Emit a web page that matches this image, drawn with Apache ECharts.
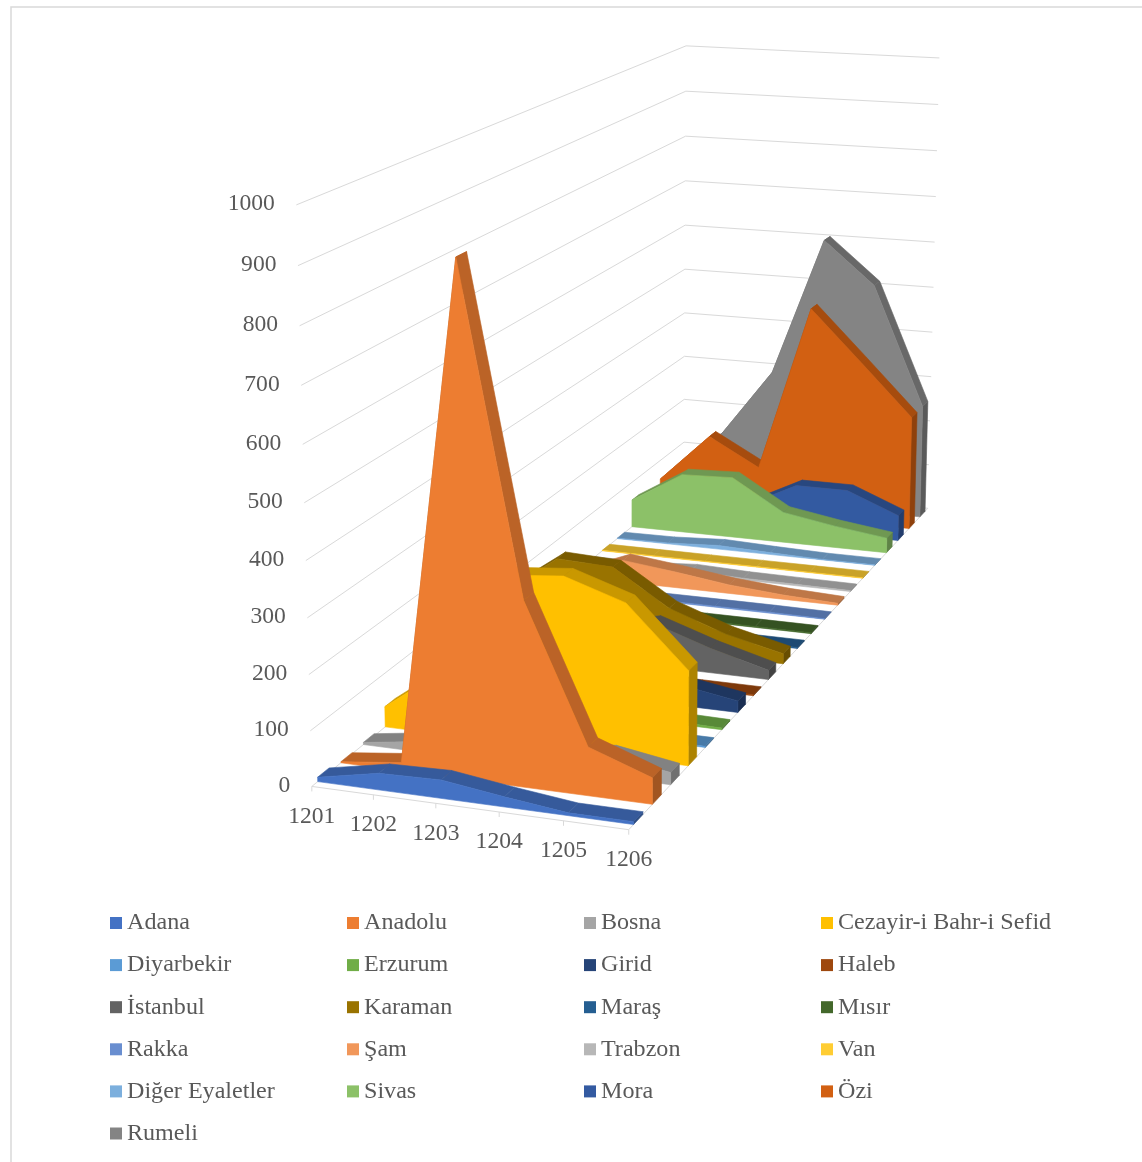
<!DOCTYPE html>
<html>
<head>
<meta charset="utf-8">
<style>html,body{margin:0;padding:0;background:#fff}#c{width:1142px;height:1162px}</style>
<script src="https://cdn.jsdelivr.net/npm/echarts@6/dist/echarts.min.js"></script>
</head>
<body>
<div id="c"></div>
<script>
const categories = ['1201','1202','1203','1204','1205','1206'];
const valueTicks = [0,100,200,300,400,500,600,700,800,900,1000];
const names = ['Adana','Anadolu','Bosna','Cezayir-i Bahr-i Sefid','Diyarbekir','Erzurum','Girid','Haleb','İstanbul','Karaman','Maraş','Mısır','Rakka','Şam','Trabzon','Van','Diğer Eyaletler','Sivas','Mora','Özi','Rumeli'];
const colors = ['#4472C4','#ED7D31','#A5A5A5','#FFC000','#5B9BD5','#70AD47','#264478','#9E480E','#636363','#997300','#255E91','#43682B','#698ED0','#F1975A','#B7B7B7','#FFCD33','#7CAFDD','#8CC168','#335AA1','#D26012','#848484'];
const adana = [8,30,33,18,5,5];
const anadolu = [2,15,907,332,87,47];
const bosna = [4,20,25,30,40,22];
const cezayir = [38,120,308,318,282,173];
const diyarbekir = [2,2,2,2,2,2];
const erzurum = [2,2,2,2,5,3];
const girid = [10,15,30,50,40,22];
const haleb = [2,2,2,2,2,2];
const istanbul = [15,30,60,85,48,18];
const karaman = [80,160,155,85,46,20];
const maras = [2,2,2,2,2,2];
const misir = [2,2,2,2,2,2];
const rakka = [2,2,2,2,2,1];
const sam = [2,46,33,18,9,4];
const trabzon = [1,1,8,4,3,2];
const van = [1,1,1,1,1,1];
const diger = [1,2,8,4,1,1];
const sivas = [60,128,132,66,47,32];
const mora = [10,20,44,100,100,55];
const ozi = [57,165,105,470,360,248];
const rumeli = [50,150,298,602,510,250];
const seriesValues = [adana,anadolu,bosna,cezayir,diyarbekir,erzurum,girid,haleb,istanbul,karaman,maras,misir,rakka,sam,trabzon,van,diger,sivas,mora,ozi,rumeli];

// Calibration of the 3D scale: axis-box corners (year, depth, value fractions) to the page
const boxAnchors = [
  [0,0,0,311,786],[1,0,0,629,830],[0,1,0,685,485],[1,1,0,927,508],
  [0,0,1,297,205],[0,1,1,685,45.7],[1,1,1,940,58]
];
function solveProjection(anchors){
  const A=[],b=[];
  anchors.forEach(([X,Y,Z,u0,v0])=>{
    const u=u0/1000,v=v0/1000;
    A.push([X,Y,Z,1,0,0,0,0,-u*X,-u*Y,-u*Z]);b.push(u);
    A.push([0,0,0,0,X,Y,Z,1,-v*X,-v*Y,-v*Z]);b.push(v);
  });
  const n=11,M=[];
  for(let i=0;i<n;i++){M.push(new Array(n+1).fill(0));
    for(let j=0;j<n;j++)for(let r=0;r<A.length;r++)M[i][j]+=A[r][i]*A[r][j];
    for(let r=0;r<A.length;r++)M[i][n]+=A[r][i]*b[r];
  }
  for(let i=0;i<n;i++){
    let p=i;for(let r=i+1;r<n;r++)if(Math.abs(M[r][i])>Math.abs(M[p][i]))p=r;
    [M[i],M[p]]=[M[p],M[i]];
    for(let r=0;r<n;r++){if(r===i)continue;const f=M[r][i]/M[i][i];for(let c=i;c<=n;c++)M[r][c]-=f*M[i][c];}
  }
  return M.map((row,i)=>row[n]/row[i]);
}
const H = solveProjection(boxAnchors);
function project(X,Y,Z){
  const w=H[8]*X+H[9]*Y+H[10]*Z+1;
  return [1000*(H[0]*X+H[1]*Y+H[2]*Z+H[3])/w,1000*(H[4]*X+H[5]*Y+H[6]*Z+H[7])/w];
}
const bandFront=0.25, bandBack=0.74, valueMax=1000;
const xOf=i=>i/(categories.length-1);
const gridColor='#d9d9d9', textColor='#595959', serif='"Liberation Serif","Times New Roman",serif';

function shade(hex,f){
  const n=parseInt(hex.slice(1),16);
  const c=[(n>>16)&255,(n>>8)&255,n&255].map(v=>Math.round(v*f));
  return 'rgb('+c.join(',')+')';
}
function poly(points,fill){
  return {type:'polygon',shape:{points},style:{fill,stroke:fill,lineWidth:0.6},silent:true};
}
function line(a,b){
  return {type:'line',shape:{x1:a[0],y1:a[1],x2:b[0],y2:b[1]},style:{stroke:gridColor,lineWidth:1,fill:null},silent:true};
}
function renderBand(params,api){
  const k=api.value(0), vals=categories.map((c,i)=>api.value(i+1)/valueMax);
  const yF=(k+bandFront)/names.length, yB=(k+bandBack)/names.length, col=colors[k];
  const ch=[], last=vals.length-1;
  ch.push(poly([project(1,yF,0),project(1,yB,0),project(1,yB,vals[last]),project(1,yF,vals[last])],shade(col,0.68)));
  for(let i=0;i<last;i++){
    ch.push(poly([project(xOf(i),yF,vals[i]),project(xOf(i+1),yF,vals[i+1]),project(xOf(i+1),yB,vals[i+1]),project(xOf(i),yB,vals[i])],shade(col,0.79)));
  }
  const f=[project(0,yF,0)];
  vals.forEach((v,i)=>f.push(project(xOf(i),yF,v)));
  f.push(project(1,yF,0));
  ch.push(poly(f,col));
  return {type:'group',children:ch};
}
function renderAxes(){
  const ch=[];
  valueTicks.forEach(t=>{
    const z=t/valueMax;
    const a=project(0,0,z),b=project(0,1,z),c=project(1,1,z);
    ch.push(line(a,b));ch.push(line(b,c));
    ch.push({type:'text',silent:true,style:{text:String(t),x:a[0]-21.5,y:a[1]-1,align:'right',verticalAlign:'middle',fontSize:23.6,fontFamily:serif,fill:textColor}});
  });
  ch.push(line(project(0,0,0),project(1,0,0)));
  ch.push(line(project(1,0,0),project(1,1,0)));
  categories.forEach((c,i)=>{
    const p=project(xOf(i),0,0);
    ch.push({type:'line',shape:{x1:p[0],y1:p[1],x2:p[0],y2:p[1]+5},style:{stroke:gridColor,lineWidth:1},silent:true});
    ch.push({type:'text',silent:true,style:{text:c,x:p[0],y:p[1]+30,align:'center',verticalAlign:'middle',fontSize:23.6,fontFamily:serif,fill:textColor}});
  });
  return {type:'group',children:ch};
}

const series=[{type:'custom',name:'axes',coordinateSystem:'none',z:1,silent:true,data:[[0]],renderItem:renderAxes,animation:false}];
names.forEach((name,k)=>{
  series.push({type:'custom',name,coordinateSystem:'none',z:100-k,silent:true,
    itemStyle:{color:colors[k]},data:[[k].concat(seriesValues[k])],renderItem:renderBand,animation:false});
});
const legendCols=[110,347,584,821];
const legend=legendCols.map((left,c)=>({
  left,top:911,orient:'vertical',itemWidth:12,itemHeight:12,itemGap:18.1,icon:'rect',selectedMode:false,padding:0,
  textStyle:{fontFamily:serif,fontSize:24.1,color:textColor,lineHeight:24},
  data:names.filter((n,i)=>i%4===c)
}));
const chart=echarts.init(document.getElementById('c'),null,{renderer:'canvas',width:1142,height:1162});
chart.setOption({
  backgroundColor:'#fff',animation:false,legend,series,
  graphic:[{type:'rect',shape:{x:11,y:7,width:1300,height:1300},style:{fill:null,stroke:'#d9d9d9',lineWidth:1.5},silent:true,z:0}]
});
</script>
</body>
</html>
